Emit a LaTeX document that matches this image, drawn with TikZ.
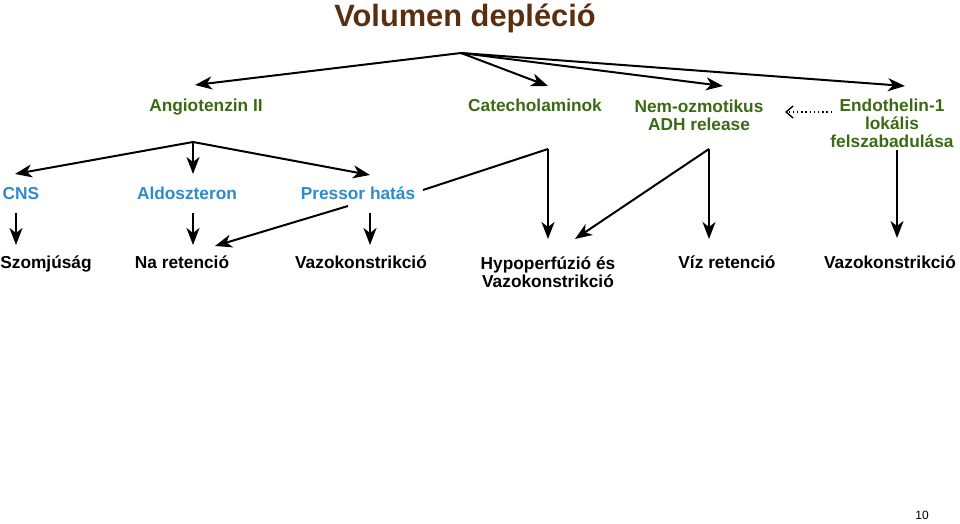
\documentclass[tikz,border=0pt]{standalone}
\usepackage{fontspec}
\setmainfont{Liberation Sans}
\usetikzlibrary{arrows.meta}
\definecolor{titlebrown}{HTML}{5A2E0E}
\definecolor{lblgreen}{HTML}{3A6A14}
\definecolor{lblblue}{HTML}{2D8BC9}
\tikzset{
  lbl/.style={inner sep=0pt, anchor=base, font=\fontsize{17.3}{17.8}\selectfont\bfseries, align=center},
  grn/.style={lbl, text=lblgreen},
  blu/.style={lbl, text=lblblue},
  blk/.style={lbl, text=black},
  arr/.style={line width=2pt, -{Stealth[length=17pt,width=13pt,inset=5pt]}},
  ln/.style={line width=2pt},
  dotarr/.style={line width=1.4pt, dash pattern=on 1.4pt off 2.8pt, -{Straight Barb[length=7pt,width=12pt,line width=1.4pt]}}
}
\begin{document}
\begin{tikzpicture}[x=1pt,y=-1pt]
\useasboundingbox (0,0) rectangle (960,524);
% title
\node[inner sep=0pt, anchor=base, text=titlebrown, font=\fontsize{30.8}{34}\selectfont\bfseries] (title) at (465,27) {Volumen depléció};
% green row (multi-line nodes anchored at the baseline of their last line)
\node[grn] (ang) at (206,111) {Angiotenzin II};
\node[grn] (cat) at (535,112) {Catecholaminok};
\node[grn] (nem) at (699,130) {Nem-ozmotikus\\ADH release};
\node[grn] (end) at (892,147) {Endothelin-1\\lokális\\felszabadulása};
% blue row
\node[blu] (cns) at (21,199) {CNS};
\node[blu] (ald) at (187,199) {Aldoszteron};
\node[blu] (pre) at (358,199) {Pressor hatás};
% black row
\node[blk] (szo) at (46,268) {Szomjúság};
\node[blk] (na) at (182,268) {Na retenció};
\node[blk] (vaz1) at (361,268) {Vazokonstrikció};
\node[blk] (hyp) at (548,287) {Hypoperfúzió és\\Vazokonstrikció};
\node[blk] (viz) at (727,268) {Víz retenció};
\node[blk] (vaz2) at (890,268) {Vazokonstrikció};
% page number
\node[inner sep=0pt, anchor=base, font=\fontsize{12}{14}\selectfont] (pg) at (922,519) {10};
% coordinates
\coordinate (h1) at (461,53);
\coordinate (angIn) at (195,85);
\coordinate (catIn) at (548,86);
\coordinate (nemIn) at (723,86);
\coordinate (endIn) at (905,86);
\coordinate (h2) at (193,142);
\coordinate (cnsIn) at (15,174);
\coordinate (aldIn) at (193,174);
\coordinate (preIn) at (370,175);
\coordinate (cnsOut) at (16,213);
\coordinate (szoIn) at (16,245);
\coordinate (aldOut) at (193,213);
\coordinate (naIn) at (193,245);
\coordinate (preOut) at (370,213);
\coordinate (vaz1In) at (370,245);
\coordinate (preOut2) at (348,206);
\coordinate (naIn2) at (215,246);
\coordinate (preOut3) at (423,190);
\coordinate (catH) at (548,149);
\coordinate (hypIn) at (548,239);
\coordinate (nemH) at (709,149);
\coordinate (vizIn) at (709,239);
\coordinate (hypIn2) at (575,239);
\coordinate (endOut) at (897,150);
\coordinate (vaz2In) at (897,238);
\coordinate (endDot) at (832,112);
\coordinate (nemDot) at (785,112);
% connectors
\draw[arr] (h1) -- (angIn);
\draw[arr] (h1) -- (catIn);
\draw[arr] (h1) -- (nemIn);
\draw[arr] (h1) -- (endIn);
\draw[dotarr] (endDot) -- (nemDot);
\draw[arr] (h2) -- (cnsIn);
\draw[arr] (h2) -- (aldIn);
\draw[arr] (h2) -- (preIn);
\draw[arr] (cnsOut) -- (szoIn);
\draw[arr] (aldOut) -- (naIn);
\draw[arr] (preOut) -- (vaz1In);
\draw[arr] (preOut2) -- (naIn2);
\draw[ln] (preOut3) -- (catH);
\draw[arr] (catH) -- (hypIn);
\draw[arr] (nemH) -- (vizIn);
\draw[arr] (nemH) -- (hypIn2);
\draw[arr] (endOut) -- (vaz2In);
\end{tikzpicture}
\end{document}
